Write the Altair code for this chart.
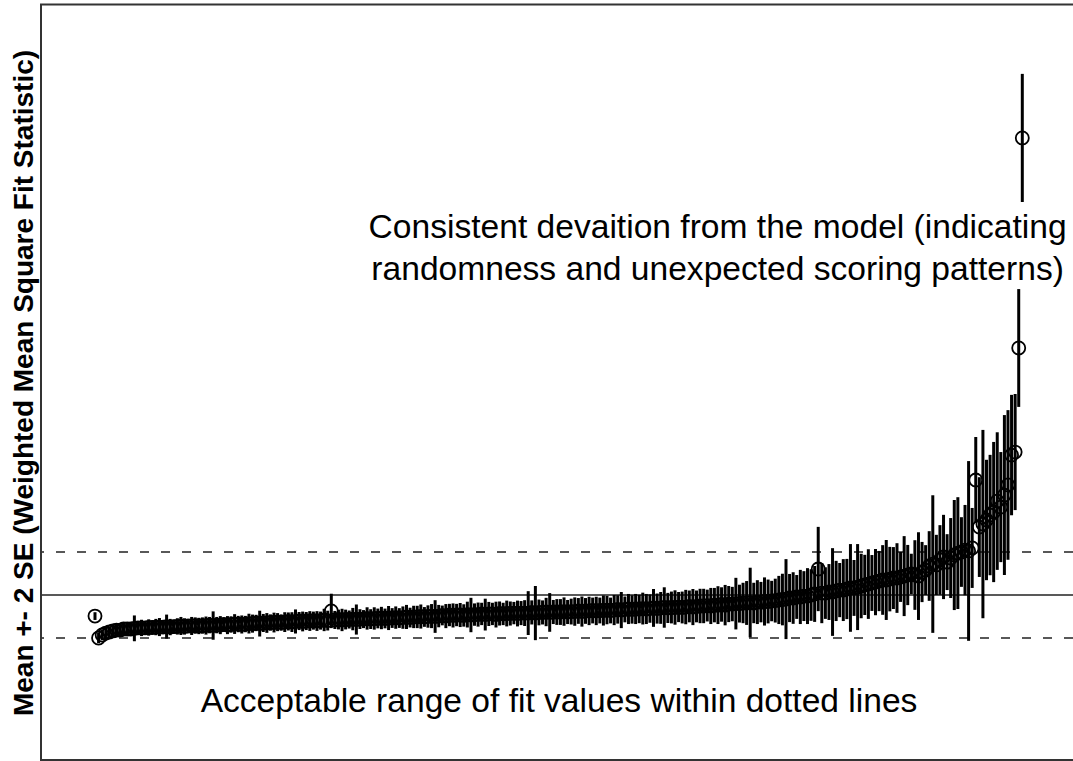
import altair as alt
import pandas as pd

# Item fit statistics, sorted as in the picture (rank order left to right)
means = [
    0.902, 0.800, 0.814, 0.823, 0.828, 0.833, 0.837, 0.837, 0.842, 0.842,
    0.842, 0.845, 0.847, 0.847, 0.847, 0.849, 0.849, 0.851, 0.851, 0.851,
    0.853, 0.851, 0.853, 0.854, 0.856, 0.854, 0.856, 0.856, 0.858, 0.856,
    0.858, 0.858, 0.860, 0.858, 0.860, 0.860, 0.863, 0.860, 0.863, 0.865,
    0.865, 0.863, 0.865, 0.867, 0.867, 0.870, 0.867, 0.870, 0.870, 0.872,
    0.872, 0.874, 0.872, 0.874, 0.877, 0.874, 0.877, 0.879, 0.877, 0.879,
    0.879, 0.881, 0.879, 0.881, 0.884, 0.881, 0.926, 0.884, 0.886, 0.884,
    0.886, 0.886, 0.888, 0.886, 0.888, 0.888, 0.891, 0.888, 0.891, 0.891,
    0.893, 0.891, 0.893, 0.893, 0.895, 0.893, 0.895, 0.898, 0.895, 0.898,
    0.898, 0.900, 0.898, 0.900, 0.902, 0.900, 0.902, 0.905, 0.902, 0.907,
    0.905, 0.907, 0.907, 0.905, 0.909, 0.907, 0.909, 0.909, 0.912, 0.909,
    0.912, 0.912, 0.909, 0.914, 0.912, 0.914, 0.914, 0.916, 0.914, 0.916,
    0.916, 0.916, 0.919, 0.916, 0.919, 0.919, 0.921, 0.919, 0.921, 0.921,
    0.921, 0.923, 0.921, 0.923, 0.923, 0.926, 0.923, 0.926, 0.926, 0.928,
    0.926, 0.928, 0.928, 0.930, 0.928, 0.930, 0.933, 0.930, 0.933, 0.935,
    0.933, 0.935, 0.935, 0.937, 0.935, 0.937, 0.940, 0.937, 0.940, 0.942,
    0.940, 0.942, 0.942, 0.944, 0.942, 0.944, 0.947, 0.944, 0.947, 0.949,
    0.949, 0.951, 0.949, 0.953, 0.953, 0.956, 0.953, 0.958, 0.958, 0.960,
    0.960, 0.963, 0.963, 0.965, 0.963, 0.967, 0.967, 0.970, 0.970, 0.972,
    0.974, 0.977, 0.979, 0.981, 0.986, 0.986, 0.991, 0.991, 0.995, 0.995,
    1.000, 1.005, 1.121, 1.009, 1.009, 1.014, 1.014, 1.019, 1.023, 1.023,
    1.028, 1.033, 1.033, 1.037, 1.042, 1.047, 1.051, 1.056, 1.060, 1.065,
    1.070, 1.070, 1.074, 1.079, 1.079, 1.084, 1.088, 1.093, 1.098, 1.093,
    1.088, 1.107, 1.116, 1.135, 1.144, 1.140, 1.163, 1.177, 1.153, 1.172,
    1.186, 1.195, 1.200, 1.209, 1.205, 1.219, 1.535, 1.316, 1.330, 1.349,
    1.372, 1.386, 1.437, 1.409, 1.465, 1.512, 1.651, 1.665, 2.149, 3.126,
]

ses = [
    0.009, 0.012, 0.012, 0.014, 0.012, 0.014, 0.014, 0.016, 0.014, 0.016,
    0.016, 0.030, 0.016, 0.019, 0.016, 0.019, 0.016, 0.019, 0.021, 0.016,
    0.028, 0.019, 0.016, 0.019, 0.021, 0.019, 0.016, 0.021, 0.019, 0.019,
    0.019, 0.021, 0.019, 0.033, 0.019, 0.021, 0.016, 0.021, 0.019, 0.023,
    0.019, 0.021, 0.019, 0.023, 0.021, 0.019, 0.030, 0.021, 0.023, 0.019,
    0.023, 0.021, 0.019, 0.023, 0.021, 0.023, 0.028, 0.021, 0.023, 0.021,
    0.023, 0.021, 0.023, 0.021, 0.026, 0.023, 0.040, 0.021, 0.023, 0.026,
    0.023, 0.021, 0.026, 0.035, 0.023, 0.021, 0.026, 0.023, 0.026, 0.023,
    0.026, 0.023, 0.028, 0.023, 0.026, 0.023, 0.026, 0.028, 0.023, 0.026,
    0.026, 0.028, 0.023, 0.026, 0.028, 0.038, 0.026, 0.023, 0.028, 0.026,
    0.028, 0.026, 0.028, 0.026, 0.030, 0.040, 0.026, 0.028, 0.026, 0.037,
    0.028, 0.026, 0.030, 0.028, 0.026, 0.030, 0.028, 0.026, 0.030, 0.028,
    0.030, 0.051, 0.028, 0.063, 0.030, 0.028, 0.033, 0.045, 0.028, 0.030,
    0.030, 0.033, 0.028, 0.030, 0.033, 0.030, 0.035, 0.030, 0.033, 0.030,
    0.033, 0.030, 0.035, 0.033, 0.030, 0.035, 0.033, 0.042, 0.030, 0.035,
    0.033, 0.035, 0.033, 0.037, 0.035, 0.033, 0.044, 0.035, 0.037, 0.047,
    0.035, 0.037, 0.040, 0.035, 0.037, 0.040, 0.037, 0.042, 0.037, 0.040,
    0.040, 0.037, 0.042, 0.040, 0.044, 0.040, 0.047, 0.042, 0.040, 0.060,
    0.044, 0.047, 0.051, 0.081, 0.047, 0.051, 0.047, 0.056, 0.051, 0.047,
    0.051, 0.056, 0.060, 0.093, 0.056, 0.060, 0.051, 0.063, 0.058, 0.065,
    0.060, 0.065, 0.098, 0.070, 0.060, 0.065, 0.102, 0.070, 0.063, 0.072,
    0.070, 0.102, 0.065, 0.100, 0.075, 0.070, 0.081, 0.065, 0.077, 0.070,
    0.081, 0.093, 0.075, 0.072, 0.081, 0.058, 0.093, 0.070, 0.047, 0.081,
    0.102, 0.070, 0.058, 0.081, 0.160, 0.070, 0.081, 0.098, 0.065, 0.093,
    0.128, 0.130, 0.081, 0.105, 0.209, 0.093, 0.100, 0.116, 0.219, 0.140,
    0.140, 0.163, 0.160, 0.128, 0.186, 0.174, 0.140, 0.135, 0.137, 0.149,
]

ranks = list(range(1, len(means) + 1))

solid_ref = [1.0]
dashed_refs = [0.8, 1.2]

note_text = [
    "Consistent devaition from the model (indicating\nrandomness and unexpected scoring patterns)",
    "Acceptable range of fit values within dotted lines",
]
note_x = [174.9, 130.6]
note_y = [2.660, 0.456]

y_title = "Mean +- 2 SE (Weighted Mean Square Fit Statistic)"

W, H = 1033, 757
FONT = "Liberation Sans"

df = pd.DataFrame({"rank": ranks, "mean": means, "se": ses})
notes = pd.DataFrame({"x": note_x, "y": note_y, "text": note_text})
solid_df = pd.DataFrame({"v": solid_ref})
dash_df = pd.DataFrame({"v": dashed_refs})

xscale = alt.Scale(domain=[-14.36, 274.16], nice=False, zero=False)
yscale = alt.Scale(domain=[0.228, 3.749], nice=False, zero=False)
yaxis = alt.Axis(
    title=y_title, labels=False, ticks=False, domain=False, grid=False,
    titleFont=FONT, titleFontSize=28, titleFontWeight="bold",
    titleColor="black", titlePadding=2,
)


def ych(field):
    return alt.Y(field, scale=yscale, axis=yaxis)


base = alt.Chart(df)

bars = base.transform_calculate(
    lo="datum.mean - 2 * datum.se", hi="datum.mean + 2 * datum.se"
).mark_rule(color="black", strokeWidth=3).encode(
    x=alt.X("rank:Q", scale=xscale, axis=None),
    y=ych("lo:Q"),
    y2="hi:Q",
)

points = base.mark_point(
    shape="circle", filled=False, color="black", strokeWidth=1.8,
    size=170, opacity=1,
).encode(
    x=alt.X("rank:Q", scale=xscale, axis=None),
    y=ych("mean:Q"),
)

solid = alt.Chart(solid_df).mark_rule(color="#222", strokeWidth=1.6).encode(
    y=ych("v:Q")
)
dashed = alt.Chart(dash_df).mark_rule(
    color="#222", strokeWidth=1.6, strokeDash=[9, 12]
).encode(y=ych("v:Q"))

texts = alt.Chart(notes).mark_text(
    font=FONT, fontSize=33.6, align="center", baseline="alphabetic",
    lineBreak="\n", lineHeight=42, color="black",
).encode(
    x=alt.X("x:Q", scale=xscale, axis=None),
    y=ych("y:Q"),
    text="text:N",
)

frame_top = alt.Chart(solid_df).mark_rule(color="#333", strokeWidth=2).encode(
    x=alt.value(0), x2=alt.value(W + 10), y=alt.value(0.5)
)
frame_left = alt.Chart(solid_df).mark_rule(color="#333", strokeWidth=2).encode(
    x=alt.value(1), y=alt.value(0), y2=alt.value(H)
)
frame_bottom = alt.Chart(solid_df).mark_rule(color="#333", strokeWidth=2).encode(
    x=alt.value(0), x2=alt.value(W + 10), y=alt.value(H - 1)
)

chart = alt.layer(
    dashed, solid, bars, points, texts, frame_top, frame_left, frame_bottom
).properties(
    width=W, height=H,
    autosize=alt.AutoSizeParams(type="none"),
    padding={"left": 40, "top": 4, "right": 0, "bottom": 0},
).configure_view(stroke=None).configure(background="white")

chart.save("out.html", embed_options={"renderer": "svg", "actions": False})
